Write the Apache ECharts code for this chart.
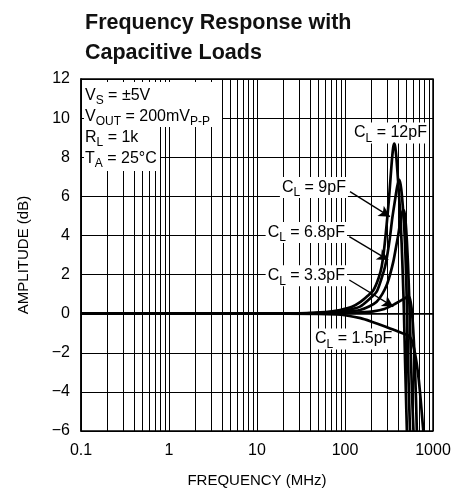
<!DOCTYPE html>
<html><head><meta charset="utf-8">
<script src="https://cdn.jsdelivr.net/npm/echarts@6/dist/echarts.min.js"></script>
<style>html,body{margin:0;padding:0;background:#fff}#c{width:452px;height:489px}</style>
</head><body><div id="c"></div>
<script>
// Axis ticks
const xTicks = [0.1, 1, 10, 100, 1000];
const xTickLabels = ['0.1', '1', '10', '100', '1000'];
const yTicks = [-6, -4, -2, 0, 2, 4, 6, 8, 10, 12];
const yTickLabels = ['\u22126', '\u22124', '\u22122', '0', '2', '4', '6', '8', '10', '12'];
const minorFreqs = [0.2,0.3,0.4,0.5,0.6,0.7,0.8,0.9, 2,3,4,5,6,7,8,9, 20,30,40,50,60,70,80,90, 200,300,400,500,600,700,800,900];

// CL = 12pF
const f12 = [0.1, 1, 10, 30, 60, 88, 120, 150, 180, 210, 240, 261, 280, 298, 315, 330, 342, 353, 363, 373, 385, 398, 412, 425, 440, 455, 468, 482, 495, 505];
const a12 = [0, 0, 0, 0.02, 0.08, 0.19, 0.35, 0.6, 0.9, 1.2, 1.8, 2.4, 3.4, 4.6, 5.8, 7.0, 7.9, 8.5, 8.7, 8.5, 7.9, 7.0, 6.0, 5.0, 3.6, 1.8, 0, -2.5, -4.5, -6];
// CL = 9pF
const f9 = [0.1, 1, 10, 30, 60, 100, 148, 190, 229, 260, 285, 305, 324, 345, 370, 392, 414, 428, 442, 462, 481, 498, 512, 528, 548];
const a9 = [0, 0, 0, 0.01, 0.06, 0.17, 0.36, 0.75, 1.13, 1.8, 2.4, 3.1, 3.9, 4.9, 5.8, 6.5, 6.84, 6.6, 6.1, 5.0, 3.6, 1.5, -0.8, -3.5, -6];
// CL = 6.8pF
const f68 = [0.1, 10, 30, 60, 100, 148, 190, 229, 265, 298, 325, 354, 380, 403, 425, 445, 460, 475, 490, 505, 520, 535, 550, 565, 582, 600];
const a68 = [0, 0, 0.01, 0.04, 0.1, 0.19, 0.38, 0.61, 1.0, 1.47, 2.0, 2.66, 3.4, 4.03, 4.7, 5.15, 5.3, 5.15, 4.6, 3.7, 2.5, 1.0, -0.8, -2.7, -4.5, -6];
// CL = 3.3pF
const f33 = [0.1, 10, 50, 100, 150, 210, 280, 354, 420, 470, 500, 524, 548, 570, 590, 610, 628, 642, 655];
const a33 = [0, 0, 0.01, 0.04, 0.07, 0.12, 0.24, 0.45, 0.64, 0.77, 0.84, 0.87, 0.75, 0.3, -0.5, -1.7, -3.2, -4.5, -6];
// CL = 1.5pF
const f15 = [0.1, 10, 50, 80, 100, 150, 201, 280, 370, 450, 524, 570, 610, 650, 690, 724, 750, 776];
const a15 = [0, 0, -0.01, -0.04, -0.08, -0.23, -0.41, -0.64, -0.85, -1.0, -1.12, -1.35, -1.8, -2.5, -3.4, -4.4, -5.2, -6];

const pts = (f, a) => f.map((v, i) => [v, a[i]]);
const FONT = "'Liberation Sans', Arial, Helvetica, sans-serif";

const chart = echarts.init(document.getElementById('c'));
const curveStyle = (f, a) => ({
  type: 'line', data: pts(f, a), showSymbol: false, symbol: 'none', smooth: 0.25,
  lineStyle: { color: '#000', width: 2.7 }, z: 4, silent: true
});

chart.setOption({
  animation: false,
  backgroundColor: '#fff',
  title: {
    text: 'Frequency Response with\nCapacitive Loads', left: 85, top: 8, padding: 0,
    textStyle: { fontFamily: FONT, fontWeight: 'bold', fontSize: 21.5, lineHeight: 30, color: '#111' }
  },
  grid: { left: 81, right: 19, top: 79, bottom: 58, show: true, borderColor: '#000', borderWidth: 1.5,
    containLabel: false, outerBoundsMode: 'none' },
  xAxis: {
    type: 'log', logBase: 10, min: 0.1, max: 1000,
    name: 'FREQUENCY (MHz)', nameLocation: 'middle', nameGap: 42,
    nameTextStyle: { fontFamily: FONT, fontSize: 15, color: '#000' },
    axisLine: { show: true, lineStyle: { color: '#000', width: 1.5 } },
    axisTick: { show: false },
    axisLabel: {
      fontFamily: FONT, fontSize: 16, color: '#000', margin: 12,
      formatter: v => { let best = 0; xTicks.forEach((t, i) => { if (Math.abs(Math.log10(t) - Math.log10(v)) < Math.abs(Math.log10(xTicks[best]) - Math.log10(v))) best = i; }); return xTickLabels[best]; }
    },
    splitLine: { show: true, lineStyle: { color: '#000', width: 1 } },
    minorTick: { show: false }, minorSplitLine: { show: false }
  },
  yAxis: {
    type: 'value', min: -6, max: 12, interval: 2,
    name: 'AMPLITUDE (dB)', nameLocation: 'middle', nameGap: 50, nameRotate: 90,
    nameTextStyle: { fontFamily: FONT, fontSize: 15, color: '#000' },
    axisLine: { show: true, lineStyle: { color: '#000', width: 1.5 } },
    axisTick: { show: false },
    axisLabel: { fontFamily: FONT, fontSize: 16, color: '#000', margin: 11,
      formatter: v => { const i = yTicks.indexOf(v); return i >= 0 ? yTickLabels[i] : ''; } },
    splitLine: { show: true, lineStyle: { color: '#000', width: 1 } }
  },
  series: [
    { type: 'line', data: [[0.1, 0]], showSymbol: false, symbol: 'none', lineStyle: { opacity: 0 }, silent: true, z: 1,
      markLine: { silent: true, symbol: 'none', z: 1, animation: false, label: { show: false },
        lineStyle: { color: '#000', width: 1, type: 'solid' },
        data: minorFreqs.map(v => ({ xAxis: v })) } },
    curveStyle(f12, a12),
    curveStyle(f9, a9),
    curveStyle(f68, a68),
    curveStyle(f33, a33),
    curveStyle(f15, a15),
    { type: 'line', data: [[0.1, 0]], showSymbol: false, symbol: 'none', lineStyle: { opacity: 0 }, silent: true, z: 5,
      markLine: { silent: true, symbol: ['none', 'arrow'], symbolSize: [9, 11], z: 6, animation: false, label: { show: false },
        lineStyle: { color: '#000', width: 1.3, type: 'solid' },
        data: [
          [{ coord: [114, 6.24] }, { coord: [324, 4.96] }],
          [{ coord: [112, 3.94] }, { coord: [310, 2.75] }],
          [{ coord: [112, 1.72] }, { coord: [354, 0.36] }]
        ] } }
  ]
});

const px = (f, d) => chart.convertToPixel({ gridIndex: 0 }, [f, d]);
const rich = {
  m: { fontFamily: FONT, fontSize: 16, lineHeight: 21, color: '#000' },
  s: { fontFamily: FONT, fontSize: 12, lineHeight: 10, padding: [11, 0, 0, 0], color: '#000' }
};
const tl = px(0.1, 12);
const label = (txt, f, d, align) => {
  const p = px(f, d);
  return { type: 'text', x: p[0], y: p[1], z: 3, silent: true,
    style: { text: txt, rich: rich, align: align, verticalAlign: 'middle', backgroundColor: '#fff', padding: [0, 2, 0, 2] } };
};
chart.setOption({
  graphic: [
    { type: 'rect', z: 3, silent: true, shape: { x: tl[0] + 3, y: tl[1] + 3, width: 138, height: 45 }, style: { fill: '#fff' } },
    { type: 'rect', z: 3, silent: true, shape: { x: tl[0] + 3, y: tl[1] + 47, width: 76, height: 45 }, style: { fill: '#fff' } },
    { type: 'text', z: 10, silent: true, x: tl[0] + 4, y: tl[1] + 6,
      style: { text: '{m|V}{s|S}{m| = \u00b15V}\n{m|V}{s|OUT}{m| = 200mV}{s|P-P}\n{m|R}{s|L}{m| = 1k}\n{m|T}{s|A}{m| = 25\u00b0C}', rich: rich, align: 'left', verticalAlign: 'top' } },
    label('{m|C}{s|L}{m| = 12pF}', 120, 9.24, 'left'),
    label('{m|C}{s|L}{m| = 9pF}', 108, 6.45, 'right'),
    label('{m|C}{s|L}{m| = 6.8pF}', 105.4, 4.15, 'right'),
    label('{m|C}{s|L}{m| = 3.3pF}', 105.4, 1.94, 'right'),
    label('{m|C}{s|L}{m| = 1.5pF}', 43.3, -1.3, 'left')
  ]
});
</script>
</body></html>
